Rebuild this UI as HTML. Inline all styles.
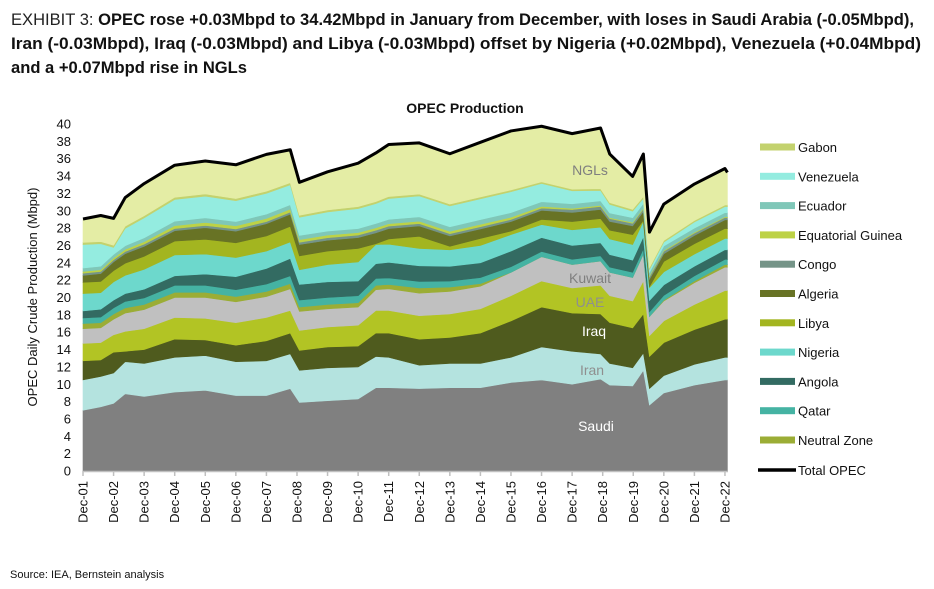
<!DOCTYPE html>
<html><head><meta charset="utf-8"><style>
html,body{margin:0;padding:0;background:#fff;}
svg{display:block;font-family:"Liberation Sans",Arial,sans-serif;}
</style></head>
<body>
<svg id="chart" width="934" height="589" viewBox="0 0 934 589">
  <g fill="#111">
    <text x="11" y="25" font-size="17" textLength="903" lengthAdjust="spacingAndGlyphs"><tspan font-weight="normal" fill="#222">EXHIBIT 3: </tspan><tspan font-weight="bold">OPEC rose +0.03Mbpd to 34.42Mbpd in January from December, with loses in Saudi Arabia (-0.05Mbpd),</tspan></text>
    <text x="11" y="49" font-size="17" font-weight="bold" textLength="910" lengthAdjust="spacingAndGlyphs">Iran (-0.03Mbpd), Iraq (-0.03Mbpd) and Libya (-0.03Mbpd) offset by Nigeria (+0.02Mbpd), Venezuela (+0.04Mbpd)</text>
    <text x="11" y="73" font-size="17" font-weight="bold" textLength="236" lengthAdjust="spacingAndGlyphs">and a +0.07Mbpd rise in NGLs</text>
  </g>
  <text x="465" y="113" font-size="14" font-weight="bold" text-anchor="middle" fill="#111">OPEC Production</text>
  <text transform="translate(37,297) rotate(-90)" font-size="13" text-anchor="middle" fill="#111">OPEC Daily Crude Production (Mbpd)</text>
  <g id="areas"></g>
  <g id="yticks"></g>
  <g id="xaxis"></g>
  <g id="labels"></g>
  <g id="legend"></g>
  <text x="10" y="578" font-size="11" fill="#111">Source: IEA, Bernstein analysis</text>
</svg>
<script>
const times = [2001.92,2002.5,2002.92,2003.3,2003.92,2004.92,2005.92,2006.92,2007.92,2008.7,2009.0,2009.92,2010.92,2011.5,2011.92,2012.92,2013.92,2014.92,2015.92,2016.92,2017.92,2018.85,2019.15,2019.9,2020.25,2020.45,2020.92,2021.92,2022.92,2023.0];
const saudi = [7.0,7.4,7.8,8.9,8.6,9.1,9.3,8.7,8.7,9.5,7.9,8.1,8.3,9.6,9.6,9.5,9.6,9.6,10.2,10.5,10.0,10.6,9.9,9.8,11.6,7.6,9.0,9.9,10.5,10.5];
const iran = [3.5,3.5,3.5,3.7,3.8,4.0,4.0,3.9,4.0,4.0,3.7,3.8,3.7,3.6,3.5,2.7,2.8,2.8,2.9,3.8,3.8,2.9,2.5,2.1,2.0,1.9,2.0,2.4,2.6,2.6];
const iraq = [2.2,1.9,2.4,1.2,1.6,2.1,1.8,1.9,2.3,2.4,2.3,2.4,2.4,2.7,2.8,3.0,3.0,3.5,4.2,4.6,4.4,4.6,4.7,4.6,4.5,3.7,3.8,4.0,4.4,4.4];
const uae = [2.0,2.0,2.0,2.3,2.4,2.5,2.5,2.6,2.7,2.6,2.3,2.3,2.4,2.6,2.6,2.7,2.7,2.8,2.9,3.0,2.9,3.3,3.1,3.1,3.8,2.4,2.5,2.9,3.3,3.3];
const kuwait = [1.7,1.7,1.8,2.1,2.2,2.3,2.4,2.4,2.4,2.5,2.2,2.1,2.1,2.4,2.5,2.6,2.6,2.6,2.7,2.8,2.7,2.8,2.7,2.7,3.1,2.2,2.3,2.5,2.7,2.7];
const neutralZone = [0.6,0.6,0.6,0.6,0.6,0.6,0.6,0.6,0.6,0.6,0.5,0.5,0.5,0.5,0.5,0.6,0.5,0.3,0,0,0,0,0,0,0,0,0.1,0.2,0.3,0.3];
const qatar = [0.65,0.65,0.7,0.75,0.75,0.8,0.8,0.8,0.85,0.9,0.8,0.8,0.8,0.8,0.75,0.75,0.7,0.7,0.65,0.6,0.6,0.6,0.6,0.6,0.6,0.55,0.55,0.6,0.6,0.6];
const angola = [0.8,0.9,0.9,0.9,1.0,1.1,1.3,1.5,1.8,2.0,1.8,1.8,1.7,1.7,1.8,1.8,1.7,1.7,1.8,1.6,1.6,1.5,1.45,1.4,1.4,1.3,1.2,1.1,1.1,1.1];
const nigeria = [2.0,1.9,2.1,2.1,2.3,2.4,2.3,2.2,2.0,1.9,1.7,2.0,2.2,2.2,2.1,2.0,1.9,2.0,1.9,1.5,1.8,1.8,1.8,1.8,1.8,1.5,1.5,1.4,1.3,1.3];
const libya = [1.3,1.3,1.3,1.4,1.5,1.6,1.7,1.7,1.75,1.8,1.6,1.55,1.55,0.1,0.6,1.4,0.4,0.8,0.4,0.6,0.95,1.0,1.0,1.15,0.1,0.1,1.2,1.2,1.15,1.15];
const algeria = [0.8,0.9,1.0,1.1,1.15,1.2,1.35,1.35,1.4,1.4,1.3,1.25,1.25,1.25,1.2,1.2,1.2,1.1,1.1,1.05,1.05,1.05,1.02,1.0,1.0,0.85,0.9,0.95,1.0,1.0];
const congo = [0.25,0.25,0.25,0.25,0.25,0.25,0.25,0.25,0.25,0.25,0.27,0.29,0.3,0.3,0.28,0.27,0.26,0.26,0.25,0.26,0.33,0.34,0.32,0.3,0.3,0.28,0.28,0.27,0.27,0.27];
const eqGuinea = [0.2,0.2,0.22,0.25,0.28,0.33,0.35,0.36,0.36,0.34,0.3,0.3,0.28,0.28,0.28,0.28,0.27,0.27,0.25,0.2,0.15,0.13,0.12,0.12,0.12,0.12,0.11,0.1,0.09,0.09];
const ecuador = [0.4,0.4,0.4,0.42,0.45,0.52,0.53,0.5,0.5,0.5,0.48,0.47,0.47,0.5,0.5,0.5,0.52,0.55,0.54,0.53,0.52,0.52,0.53,0.53,0.52,0.4,0.5,0.48,0.47,0.47];
const venezuela = [2.7,2.6,0.8,2.0,2.3,2.5,2.5,2.4,2.4,2.3,2.1,2.2,2.3,2.3,2.4,2.4,2.4,2.4,2.4,2.1,1.5,1.2,1.0,0.75,0.6,0.35,0.45,0.7,0.7,0.7];
const gabon = [0.25,0.25,0.25,0.25,0.25,0.25,0.25,0.24,0.24,0.24,0.23,0.23,0.23,0.23,0.23,0.22,0.22,0.21,0.21,0.2,0.19,0.2,0.2,0.21,0.2,0.18,0.18,0.18,0.19,0.19];
const ngls = [2.7,3.0,3.1,3.3,3.7,3.7,3.8,3.9,4.25,3.8,3.8,4.4,5.0,5.6,6.0,5.9,5.8,6.3,6.8,6.4,6.4,7.0,5.6,3.8,4.9,4.1,4.2,4.2,4.2,3.75];
const yTicks = [0,2,4,6,8,10,12,14,16,18,20,22,24,26,28,30,32,34,36,38,40];
const xTickYears = [2001,2002,2003,2004,2005,2006,2007,2008,2009,2010,2011,2012,2013,2014,2015,2016,2017,2018,2019,2020,2021,2022];
const legendNames = ["Gabon","Venezuela","Ecuador","Equatorial Guinea","Congo","Algeria","Libya","Nigeria","Angola","Qatar","Neutral Zone"];

const series = [
  {name:"saudi", v:saudi, c:"#808080"},
  {name:"iran", v:iran, c:"#b4e3df"},
  {name:"iraq", v:iraq, c:"#4f5b1e"},
  {name:"uae", v:uae, c:"#b2c424"},
  {name:"kuwait", v:kuwait, c:"#c0c0c0"},
  {name:"neutral-zone", v:neutralZone, c:"#9bad35"},
  {name:"qatar", v:qatar, c:"#45b3a3"},
  {name:"angola", v:angola, c:"#336b62"},
  {name:"nigeria", v:nigeria, c:"#6dd8cc"},
  {name:"libya", v:libya, c:"#a3b520"},
  {name:"algeria", v:algeria, c:"#687325"},
  {name:"congo", v:congo, c:"#759488"},
  {name:"equatorial-guinea", v:eqGuinea, c:"#bdd246"},
  {name:"ecuador", v:ecuador, c:"#7fc7b8"},
  {name:"venezuela", v:venezuela, c:"#94ece0"},
  {name:"gabon", v:gabon, c:"#c3d26e"},
  {name:"ngls", v:ngls, c:"#e4eda5"}
];
const legendColors = {"Gabon":"#c3d26e","Venezuela":"#94ece0","Ecuador":"#7fc7b8","Equatorial Guinea":"#bdd246","Congo":"#759488","Algeria":"#687325","Libya":"#a3b520","Nigeria":"#6dd8cc","Angola":"#336b62","Qatar":"#45b3a3","Neutral Zone":"#9bad35"};

const NS = "http://www.w3.org/2000/svg";
const X0 = 83, PX_PER_YEAR = 30.57, Y0 = 471, PX_PER_UNIT = 8.675;
function xScale(t){ return X0 + (t - 2001.92) * PX_PER_YEAR; }
function yScale(v){ return Y0 - v * PX_PER_UNIT; }
function mk(tag, attrs){ const e = document.createElementNS(NS, tag); for (const k in attrs) e.setAttribute(k, attrs[k]); return e; }

const areas = document.getElementById('areas');
let base = times.map(() => 0);
series.forEach(s => {
  const top = base.map((b, i) => b + s.v[i]);
  let d = "M" + times.map((t, i) => xScale(t).toFixed(2) + "," + yScale(top[i]).toFixed(2)).join(" L");
  for (let i = times.length - 1; i >= 0; i--) d += " L" + xScale(times[i]).toFixed(2) + "," + yScale(base[i]).toFixed(2);
  d += " Z";
  const p = mk('path', {d: d, fill: s.c, stroke: s.c, 'stroke-width': 0.6});
  
  
  areas.appendChild(p);
  base = top;
});
const totalLine = mk('path', {d: "M" + times.map((t, i) => xScale(t).toFixed(2) + "," + yScale(base[i]).toFixed(2)).join(" L"), fill: "none", stroke: "#000", 'stroke-width': 3, 'stroke-linejoin': 'round'});


areas.appendChild(totalLine);

const yg = document.getElementById('yticks');
yTicks.forEach(v => {
  const t = mk('text', {x: 71, y: yScale(v) + 4.5, 'font-size': 13, 'text-anchor': 'end', fill: '#111'});
  t.textContent = v;
  
  
  yg.appendChild(t);
});

const xg = document.getElementById('xaxis');
const axisLine = mk('line', {x1: 83, y1: Y0 + 0.5, x2: 728, y2: Y0 + 0.5, stroke: '#c0c0c0', 'stroke-width': 1.5});


xg.appendChild(axisLine);
xTickYears.forEach(yr => {
  const x = xScale(yr + 0.92);
  const tk = mk('line', {x1: x, y1: Y0, x2: x, y2: Y0 + 5, stroke: '#c0c0c0', 'stroke-width': 1.5});
  
  
  xg.appendChild(tk);
  const t = mk('text', {transform: 'translate(' + (x + 4.5) + ',481) rotate(-90)', 'font-size': 13, 'text-anchor': 'end', fill: '#111'});
  t.textContent = 'Dec-' + String(yr % 100).padStart(2, '0');
  
  
  xg.appendChild(t);
});

const lg = document.getElementById('labels');
[["NGLs",590,175,"#7f7f7f"],["Kuwait",590,283,"#7f7f7f"],["UAE",590,307,"#8f8f8f"],["Iraq",594,336,"#ffffff"],["Iran",592,375,"#8f8f8f"],["Saudi",596,431,"#ffffff"]].forEach(a => {
  const t = mk('text', {x: a[1], y: a[2], 'font-size': 14, 'text-anchor': 'middle', fill: a[3]});
  t.textContent = a[0];
  
  
  lg.appendChild(t);
});

const leg = document.getElementById('legend');
legendNames.forEach((n, i) => {
  const y = 147 + i * 29.3;
  const g = mk('g', {});
  
  
  g.appendChild(mk('rect', {x: 760, y: y - 3.5, width: 35, height: 7, fill: legendColors[n]}));
  const t = mk('text', {x: 798, y: y + 5, 'font-size': 13, fill: '#111'});
  t.textContent = n;
  g.appendChild(t);
  leg.appendChild(g);
});
const tg = mk('g', {});


tg.appendChild(mk('line', {x1: 758, y1: 470, x2: 796, y2: 470, stroke: '#000', 'stroke-width': 3.5}));
const tt = mk('text', {x: 798, y: 475, 'font-size': 13, fill: '#111'});
tt.textContent = 'Total OPEC';
tg.appendChild(tt);
leg.appendChild(tg);
</script>
</body></html>
